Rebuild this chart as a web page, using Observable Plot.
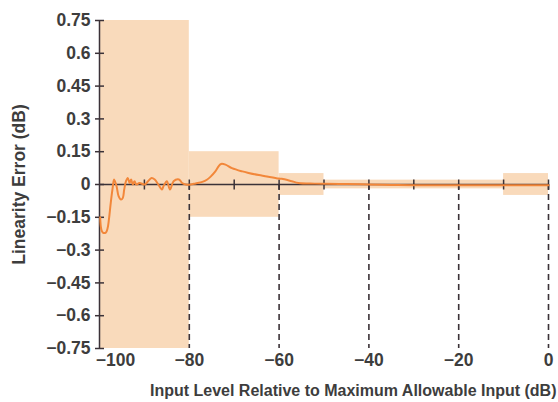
<!DOCTYPE html>
<html>
<head>
<meta charset="utf-8">
<script src="https://cdn.jsdelivr.net/npm/d3@7"></script>
<script src="https://cdn.jsdelivr.net/npm/@observablehq/plot@0.6"></script>
<style>
  html, body { margin: 0; padding: 0; background: #ffffff; }
  #chart svg { display: block; }
</style>
</head>
<body>
<div id="chart"></div>
<script>
// Specification bands (input level ranges and allowed ± error, dB)
const bandStart = [-100, -80, -60, -50, -10];
const bandEnd   = [-80, -60, -50, -10, 0];
const bandLimit = [0.75, 0.15, 0.05, 0.02, 0.05];

// Measured linearity error curve
const curveX = [-99.85, -99.6, -99.25, -98.6, -98.2, -97.9, -97.5, -97.1, -96.75, -96.2,
  -95.75, -95.2, -94.8, -94.5, -94.1, -93.7, -93.3, -92.95, -92.6, -92.2,
  -91.8, -91.1, -89.9, -89.2, -88.4, -87.7, -86.9, -86.1, -85.75, -85.0,
  -84.3, -83.5, -82.3, -81.6, -80.8, -79.7, -78.6, -77.1, -76.0, -75.3,
  -74.2, -73.4, -72.9, -71.95, -70.5, -68.2, -66.8, -64.5, -63.1, -60.1,
  -59.4, -57.2, -55.7, -52.1, -49.8, -45, -40, -35, -30, -25,
  -20, -15, -10, -5, 0];
const curveY = [-0.15, -0.205, -0.22, -0.22, -0.2, -0.16, -0.085, -0.02, 0.023, -0.008,
  -0.053, -0.069, -0.061, -0.023, 0.015, 0.03, 0.007, 0.023, 0, 0.015,
  0, 0.007, 0, 0.015, 0.03, 0.023, 0, -0.023, -0.008, 0.015,
  -0.023, 0.015, 0.023, 0.007, 0, 0, 0.005, 0.012, 0.023, 0.035,
  0.06, 0.085, 0.094, 0.091, 0.075, 0.06, 0.053, 0.043, 0.038, 0.027,
  0.026, 0.015, 0.007, 0.004, 0.003, 0.002, 0, -0.002, -0.003, -0.003,
  -0.003, -0.003, -0.003, -0.003, -0.003];

// Axis ticks
const yTicks = [0.75, 0.6, 0.45, 0.3, 0.15, 0, -0.15, -0.3, -0.45, -0.6, -0.75];
const xTickLabels = [-100, -80, -60, -40, -20, 0];
const xMinorTicks = [-90, -80, -70, -60, -50, -40, -30, -20, -10, 0];
const dashedX = [-80, -60, -40, -20, 0];
const yTitle = "Linearity Error (dB)";
const xTitle = "Input Level Relative to Maximum Allowable Input (dB)";

const bands = bandStart.map((s, i) => ({x1: s, x2: bandEnd[i], lim: bandLimit[i]}));
const curve = curveX.map((x, i) => ({x, y: curveY[i]}));

const axisColor = "#3b3238";
const textColor = "#3d3d3d";
const bandColor = "#f9dabb";
const lineColor = "#f2873a";
const fmt = d => d === 0 ? "0" : (d < 0 ? "\u2212" : "") + String(Math.abs(d));

const vTick = { draw(ctx, size) { const h = Math.sqrt(size / Math.PI); ctx.moveTo(0, -h); ctx.lineTo(0, h); } };
const hTick = { draw(ctx, size) { const h = Math.sqrt(size / Math.PI); ctx.moveTo(-h, 0); ctx.lineTo(h, 0); } };

const labelStyle = { fill: textColor, fontSize: 17.5, fontWeight: "bold" };

const chart = Plot.plot({
  width: 558,
  height: 402,
  marginLeft: 99,
  marginRight: 10,
  marginTop: 20,
  marginBottom: 54,
  style: { fontFamily: "'Liberation Sans', Arial, sans-serif", fontSize: "16px", fontWeight: "bold", color: textColor, background: "#ffffff" },
  x: { domain: [-100, 0], axis: null },
  y: { domain: [-0.75, 0.75], axis: null },
  marks: [
    Plot.rect(bands, { x1: "x1", x2: "x2", y1: d => -d.lim, y2: d => d.lim, fill: bandColor }),
    Plot.ruleX(dashedX, { y1: 0, y2: -0.75, stroke: axisColor, strokeWidth: 1.6, strokeDasharray: "6,4" }),
    Plot.ruleY([0], { x1: -100, x2: 0, stroke: axisColor, strokeWidth: 1.5 }),
    Plot.ruleX([-100], { stroke: axisColor, strokeWidth: 1.5 }),
    Plot.dot(xMinorTicks, { x: d => d, y: 0, symbol: vTick, r: 5, fill: "none", stroke: axisColor, strokeWidth: 1.5 }),
    Plot.dot(yTicks, { x: -100, y: d => d, symbol: hTick, r: 4.5, fill: "none", stroke: axisColor, strokeWidth: 1.5 }),
    Plot.line(curve, { x: "x", y: "y", stroke: lineColor, strokeWidth: 2, curve: "catmull-rom" }),
    Plot.text(yTicks, { x: -100, y: d => d, text: fmt, textAnchor: "end", dx: -9, ...labelStyle }),
    Plot.text(xTickLabels.filter(d => d !== -100), { x: d => d, frameAnchor: "bottom", text: fmt, lineAnchor: "middle", dy: 12, ...labelStyle }),
    Plot.text([-100], { x: d => d, frameAnchor: "bottom", text: fmt, lineAnchor: "middle", dy: 12, dx: 16, ...labelStyle }),
    Plot.text([yTitle], { frameAnchor: "left", textAnchor: "middle", lineAnchor: "middle", dx: -80, rotate: -90, fill: textColor, fontSize: 17.5, fontWeight: "bold" }),
    Plot.text([xTitle], { frameAnchor: "bottom-right", textAnchor: "end", dx: 8, dy: 42, lineAnchor: "middle", fill: textColor, fontSize: 16, fontWeight: "bold" })
  ]
});
document.getElementById("chart").appendChild(chart);
</script>
</body>
</html>
